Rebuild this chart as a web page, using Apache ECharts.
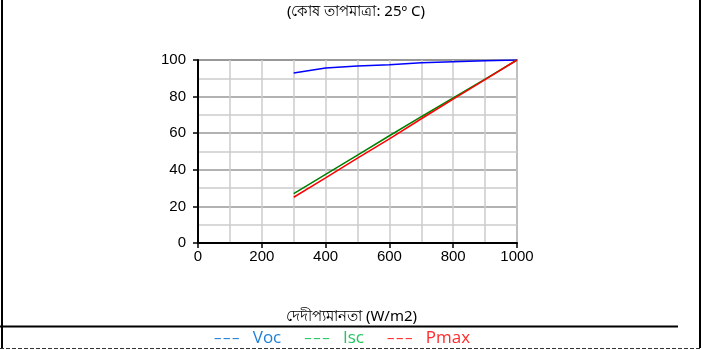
<!DOCTYPE html>
<html><head><meta charset="utf-8">
<script src="https://cdn.jsdelivr.net/npm/echarts@6/dist/echarts.min.js"></script>
<style>html,body{margin:0;padding:0;background:#fff}#c{width:703px;height:350px}</style>
</head><body><div id="c"></div>
<script>
var irradiance = [300, 400, 500, 600, 700, 800, 900, 1000];
var vocValues  = [92.9, 95.6, 96.7, 97.4, 98.5, 99.1, 99.6, 100];
var iscValues  = [27.0, 37.5, 48.0, 58.6, 69.0, 79.3, 89.6, 100];
var pmaxValues = [25.0, 35.6, 46.4, 56.9, 67.9, 78.6, 89.3, 100];
var seriesNames = ['Voc', 'Isc', 'Pmax'];
var titleText = '(কোষ তাপমাত্রা: 25º C)';
var xAxisTitle = 'দেদীপ্যমানতা (W/m2)';

function pairs(vals){ return irradiance.map(function(x,i){ return [x, vals[i]]; }); }

var chart = echarts.init(document.getElementById('c'));
chart.setOption({
  animation: false,
  backgroundColor: '#fff',
  title: {
    text: titleText, left: 351, textAlign: 'center', top: -1,
    textStyle: {fontFamily: 'Noto Sans, Open Sans, sans-serif', fontSize: 15, fontWeight: 'normal', color: '#000'}
  },
  grid: {left: 198, right: 186, top: 60, bottom: 107, show: true, borderColor: '#999', borderWidth: 2},
  legend: {
    bottom: -2, left: 204, itemGap: 18, icon: 'none', itemWidth: 0,
    formatter: function(n){ return '{d|\u2013\u200a\u2013\u200a\u2013}   ' + n; },
    data: [
      {name: 'Voc', textStyle: {color: '#1f7fd4'}},
      {name: 'Isc', textStyle: {color: '#22c55e'}},
      {name: 'Pmax', textStyle: {color: '#ff2a2a'}}
    ],
    textStyle: {fontFamily: 'Open Sans, sans-serif', fontSize: 17,
      rich: {d: {fontFamily: 'Open Sans, sans-serif', fontSize: 15}}}
  },
  xAxis: {
    type: 'value', min: 0, max: 1000, interval: 200,
    name: xAxisTitle, nameLocation: 'middle', nameGap: 66,
    nameTextStyle: {fontFamily: 'Noto Sans, Open Sans, sans-serif', fontSize: 15, color: '#000', padding: [0, 12, 0, 0]},
    axisLine: {show: true, lineStyle: {color: '#000', width: 2}},
    axisTick: {show: true, length: 5, lineStyle: {color: '#000', width: 1.5}},
    axisLabel: {fontFamily: 'Liberation Sans, Arial', fontSize: 15, color: '#000', margin: 6,
      formatter: function(v){ return String(v); }},
    splitLine: {show: true, lineStyle: {color: '#cccccc', width: 1.5}},
    minorTick: {show: false, splitNumber: 2},
    minorSplitLine: {show: true, lineStyle: {color: '#cccccc', width: 1.5}}
  },
  yAxis: {
    type: 'value', min: 0, max: 100, interval: 20,
    axisLine: {show: true, lineStyle: {color: '#000', width: 2}},
    axisTick: {show: true, length: 5, lineStyle: {color: '#000', width: 1.5}},
    axisLabel: {fontFamily: 'Liberation Sans, Arial', fontSize: 15, color: '#000', margin: 12},
    splitLine: {show: true, lineStyle: {color: '#999999', width: 1.5}},
    minorTick: {show: false, splitNumber: 2},
    minorSplitLine: {show: true, lineStyle: {color: '#cccccc', width: 1.5}}
  },
  series: [
    {name: seriesNames[0], type: 'line', data: pairs(vocValues), showSymbol: false, lineStyle: {color: '#0000ff', width: 1.5}, itemStyle: {color: '#0000ff'}},
    {name: seriesNames[1], type: 'line', data: pairs(iscValues), showSymbol: false, lineStyle: {color: '#008000', width: 1.5}, itemStyle: {color: '#008000'}},
    {name: seriesNames[2], type: 'line', data: pairs(pmaxValues), showSymbol: false, lineStyle: {color: '#ff0000', width: 1.5}, itemStyle: {color: '#ff0000'}}
  ],
  graphic: [
    {type: 'line', shape: {x1: 2, y1: 0, x2: 2, y2: 348}, style: {stroke: '#000', lineWidth: 2}},
    {type: 'line', shape: {x1: 700, y1: 0, x2: 700, y2: 348}, style: {stroke: '#000', lineWidth: 2}},
    {type: 'line', shape: {x1: 0, y1: 326.5, x2: 678, y2: 326.5}, style: {stroke: '#000', lineWidth: 2}},
    {type: 'line', shape: {x1: 0, y1: 348.5, x2: 700, y2: 348.5}, style: {stroke: '#333', lineWidth: 1, lineDash: [4, 2]}}
  ]
});
</script></body></html>
